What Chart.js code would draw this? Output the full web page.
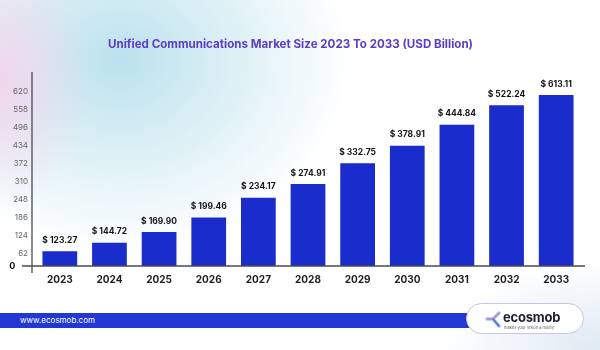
<!DOCTYPE html>
<html>
<head>
<meta charset="utf-8">
<script src="https://cdn.jsdelivr.net/npm/chart.js@4"></script>
<style>
  body {
    margin: 0;
    width: 600px;
    height: 350px;
    overflow: hidden;
    font-family: "Inter", "Open Sans", sans-serif;
    background:
      radial-gradient(ellipse 90px 130px at 0px 80px, rgba(242, 212, 236, 0.95), rgba(242, 212, 236, 0) 100%),
      radial-gradient(ellipse 230px 190px at 120px 60px, rgba(183, 224, 236, 0.95), rgba(255, 255, 255, 0) 100%),
      radial-gradient(ellipse 160px 90px at 600px 350px, rgba(215, 228, 240, 0.8), rgba(255, 255, 255, 0) 100%),
      #ffffff;
  }
  #wrap {
    position: absolute;
    left: 0;
    top: 0;
    width: 600px;
    height: 350px;
  }
  .band {
    position: absolute;
    left: 0;
    top: 313px;
    width: 480px;
    height: 15px;
    background: #2337d6;
    color: #fff;
    font-size: 8px;
    line-height: 15px;
    padding-left: 20px;
    box-sizing: border-box;
  }
  .logo {
    position: absolute;
    left: 466px;
    top: 303px;
    width: 118px;
    height: 31px;
    box-sizing: border-box;
    border: 1px solid #c9c3e6;
    border-radius: 16px;
    background: #fff;
  }
  .logo .name {
    position: absolute;
    left: 36px;
    top: 5px;
    font-size: 13px;
    font-weight: 700;
    color: #1e1e2e;
    letter-spacing: -0.2px;
  }
  .logo .tag {
    position: absolute;
    left: 37px;
    top: 21px;
    font-size: 4px;
    color: #666;
  }
  .logo svg {
    position: absolute;
    left: 18px;
    top: 6px;
  }
</style>
</head>
<body>
<div id="wrap"><canvas id="chart" width="600" height="350"></canvas></div>
<div class="band">www.ecosmob.com</div>
<div class="logo">
  <svg width="17" height="19" viewBox="0 0 17 19">
    <path d="M2 9 L8 9 L14 3 M8 9 L14 16" stroke="#8fd3e8" stroke-width="3.5" fill="none" stroke-linecap="round"/>
    <path d="M2 9 L8 9 L14 3" stroke="#e073c8" stroke-width="1.4" fill="none" stroke-linecap="round"/>
    <path d="M8 9 L14 16" stroke="#6a5ad6" stroke-width="1.4" fill="none" stroke-linecap="round"/>
  </svg>
  <span class="name">ecosmob</span>
  <span class="tag">makes your vision a reality</span>
</div>
<script>
// 年
const years = ["2023", "2024", "2025", "2026", "2027", "2028", "2029", "2030", "2031", "2032", "2033"];
// 棒の高さ（図から読み取った値、目盛り基準）
const barHeights = [69, 98, 135, 185, 254, 301, 373, 433, 506, 573, 608];
// 棒の上のラベル
const valueLabels = ["$ 123.27", "$ 144.72", "$ 169.90", "$ 199.46", "$ 234.17", "$ 274.91",
  "$ 332.75", "$ 378.91", "$ 444.84", "$ 522.24", "$ 613.11"];
// Y軸の目盛り
const yTicks = [62, 124, 186, 248, 310, 372, 434, 496, 558, 620];
const yBase = 18; // "0" が描かれる位置
const yTop = 688;

// 軸の線と棒ラベルを描く
const decorPlugin = {
  id: "decor",
  afterDatasetsDraw(chart) {
    const ctx = chart.ctx;
    const area = chart.chartArea;
    ctx.save();
    ctx.strokeStyle = "#4a4a55";
    ctx.lineWidth = 1.3;
    ctx.beginPath();
    ctx.moveTo(area.left - 3, area.top);
    ctx.lineTo(area.left - 3, area.bottom + 7);
    ctx.moveTo(area.left - 13, area.bottom);
    ctx.lineTo(area.right + 4, area.bottom);
    ctx.stroke();

    ctx.fillStyle = "#151515";
    ctx.font = "bold 8.5px Inter, sans-serif";
    ctx.textAlign = "center";
    ctx.textBaseline = "middle";
    const meta = chart.getDatasetMeta(0);
    meta.data.forEach((bar, i) => {
      ctx.fillText(valueLabels[i], bar.x, bar.y - 11);
    });
    ctx.restore();
  },
};

const ctx = document.getElementById("chart").getContext("2d");
new Chart(ctx, {
  type: "bar",
  data: {
    labels: years,
    datasets: [
      {
        data: barHeights,
        backgroundColor: "#1a2ccc",
        borderWidth: 0,
        barPercentage: 0.7,
        categoryPercentage: 1.0,
      },
    ],
  },
  options: {
    responsive: false,
    animation: false,
    layout: { padding: { left: 0, right: 19, top: 0, bottom: 0 } },
    plugins: {
      legend: { display: false },
      tooltip: { enabled: false },
      title: {
        display: true,
        text: "Unified Communications Market Size 2023 To 2033 (USD Billion)",
        color: "#5b3cc6",
        font: { family: "Inter", size: 11.6, weight: "bold" },
        padding: { top: 38, bottom: 20 },
      },
    },
    scales: {
      x: {
        grid: { display: false, drawTicks: false },
        border: { display: false },
        ticks: {
          color: "#1d1d1d",
          font: { family: "Inter", size: 10, weight: "bold" },
          padding: 8,
        },
        afterFit(scale) {
          scale.height = 84;
        },
      },
      y: {
        min: yBase,
        max: yTop,
        grid: { display: false, drawTicks: false },
        border: { display: false },
        afterBuildTicks(scale) {
          scale.ticks = [yBase].concat(yTicks).map((v) => ({ value: v }));
        },
        ticks: {
          padding: 7,
          color: (c) => (c.tick && c.tick.value === yBase ? "#111" : "#666"),
          font: (c) => ({
            family: "Inter",
            size: c.tick && c.tick.value === yBase ? 9 : 8,
            weight: c.tick && c.tick.value === yBase ? "bold" : "normal",
          }),
          callback: (v) => (v === yBase ? "0      " : String(v)),
        },
        afterFit(scale) {
          scale.width = 35;
        },
      },
    },
  },
  plugins: [decorPlugin],
});
</script>
</body>
</html>
